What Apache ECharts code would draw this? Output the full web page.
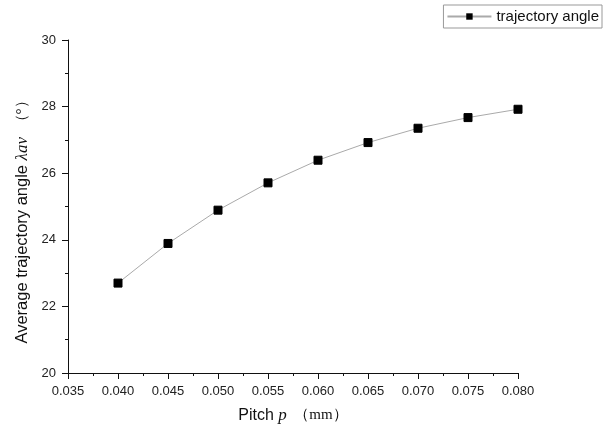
<!DOCTYPE html>
<html>
<head>
<meta charset="utf-8">
<script src="https://cdn.jsdelivr.net/npm/echarts@6/dist/echarts.min.js"></script>
<style>
  html, body { margin: 0; padding: 0; background: #fff; }
  #chart { width: 616px; height: 431px; }
</style>
</head>
<body>
<div id="chart"></div>
<script>
var pitch = [0.040, 0.045, 0.050, 0.055, 0.060, 0.065, 0.070, 0.075, 0.080];
var angle = [22.70, 23.89, 24.89, 25.71, 26.39, 26.92, 27.35, 27.67, 27.92];
var seriesName = 'trajectory angle';

var points = pitch.map(function (p, i) { return [p, angle[i]]; });

var myChart = echarts.init(document.getElementById('chart'));
var axisFont = 'Liberation Sans, Arial, sans-serif';
var serif = 'Liberation Serif, Times New Roman, serif';

var option = {
    backgroundColor: '#fff',
    animation: false,
    legend: {
        data: [seriesName],
        right: 14,
        top: 5,
        padding: [4, 3, 4, 3],
        borderColor: '#999',
        borderWidth: 1,
        itemWidth: 44,
        itemHeight: 8,
        itemGap: 4,
        textStyle: { fontFamily: axisFont, fontSize: 15, color: '#111' }
    },
    grid: { left: 68, right: 98, top: 40, bottom: 58 },
    xAxis: {
        type: 'value',
        min: 0.035,
        max: 0.080,
        interval: 0.005,
        name: '{a|Pitch }{b|p}{c|  （mm）}',
        nameLocation: 'middle',
        nameGap: 34,
        nameTextStyle: {
            rich: {
                a: { fontFamily: axisFont, fontSize: 16, color: '#111' },
                b: { fontFamily: serif, fontStyle: 'italic', fontSize: 17, color: '#111' },
                c: { fontFamily: serif, fontSize: 15, color: '#111' }
            }
        },
        axisLine: { lineStyle: { color: '#111', width: 1 } },
        axisTick: { inside: false, length: 6, lineStyle: { color: '#111' } },
        minorTick: { show: true, splitNumber: 2, length: 3, lineStyle: { color: '#111' } },
        splitLine: { show: false },
        axisLabel: {
            color: '#222', fontFamily: axisFont, fontSize: 13, margin: 12,
            formatter: function (v) { return v.toFixed(3); }
        }
    },
    yAxis: {
        type: 'value',
        min: 20,
        max: 30,
        interval: 2,
        name: '{a|Average trajectory angle }{b|λav}{c|  （°）}',
        nameLocation: 'middle',
        nameGap: 33,
        nameTextStyle: {
            padding: [0, 24, 0, 0],
            rich: {
                a: { fontFamily: axisFont, fontSize: 16.5, color: '#111' },
                b: { fontFamily: serif, fontStyle: 'italic', fontSize: 17, color: '#111' },
                c: { fontFamily: serif, fontSize: 15, color: '#111' }
            }
        },
        axisLine: { show: true, lineStyle: { color: '#111', width: 1 } },
        axisTick: { show: true, inside: false, length: 6, lineStyle: { color: '#111' } },
        minorTick: { show: true, splitNumber: 2, length: 3, lineStyle: { color: '#111' } },
        splitLine: { show: false },
        axisLabel: { color: '#222', fontFamily: axisFont, fontSize: 13, margin: 12 }
    },
    series: [{
        name: seriesName,
        type: 'line',
        data: points,
        symbol: 'rect',
        symbolSize: 8,
        clip: false,
        lineStyle: { color: '#aaa', width: 1 },
        itemStyle: { color: '#000', borderColor: '#000' }
    }]
};
myChart.setOption(option, true);
</script>
</body>
</html>
